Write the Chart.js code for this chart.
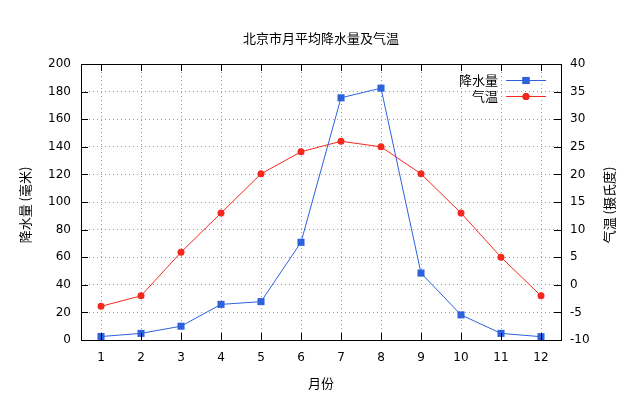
<!DOCTYPE html>
<html>
<head>
<meta charset="utf-8">
<script src="https://cdn.jsdelivr.net/npm/chart.js@4"></script>
<style>
  html, body { margin: 0; padding: 0; background: #fff; }
  #wrap { width: 630px; height: 408px; }
</style>
</head>
<body>
<div id="wrap"><canvas id="chart"></canvas></div>
<script>
const months = ['1', '2', '3', '4', '5', '6', '7', '8', '9', '10', '11', '12'];
const rain = [2.5, 4.8, 10, 25.8, 27.8, 70.8, 175.5, 182.5, 48.5, 18.2, 4.8, 2.4];
const temp = [-3.9, -2.0, 5.9, 13.0, 20.1, 24.1, 26.0, 25.0, 20.1, 13.0, 5.0, -2.0];

const title = '北京市月平均降水量及气温';
const xTitle = '月份';
const yTitle = '降水量 (毫米)';
const y2Title = '气温 (摄氏度)';
const rainLabel = '降水量';
const tempLabel = '气温';

const blue = '#2c62dc';
const red = '#f5281e';
const numFont = { family: 'DejaVu Sans', size: 12 };
const cjk = '"Noto Sans CJK SC", sans-serif';

// frame, inward ticks, texts and legend, drawn like gnuplot does
const decor = {
    id: 'decor',
    afterDraw(chart) {
        const ctx = chart.ctx;
        const a = chart.chartArea;
        const sx = chart.scales.x, sy = chart.scales.y, sy2 = chart.scales.y2;
        const tl = 7;
        ctx.save();
        ctx.strokeStyle = '#000';
        ctx.lineWidth = 1;
        ctx.beginPath();
        sx.ticks.forEach((t, i) => {
            const px = Math.round(sx.getPixelForTick(i)) + 0.5;
            ctx.moveTo(px, a.bottom); ctx.lineTo(px, a.bottom - tl);
            ctx.moveTo(px, a.top); ctx.lineTo(px, a.top + tl);
        });
        sy.ticks.forEach(t => {
            const py = Math.round(sy.getPixelForValue(t.value)) + 0.5;
            ctx.moveTo(a.left, py); ctx.lineTo(a.left + tl, py);
        });
        sy2.ticks.forEach(t => {
            const py = Math.round(sy2.getPixelForValue(t.value)) + 0.5;
            ctx.moveTo(a.right, py); ctx.lineTo(a.right - tl, py);
        });
        ctx.stroke();
        ctx.strokeRect(Math.round(a.left) + 0.5, Math.round(a.top) + 0.5,
            Math.round(a.right - a.left), Math.round(a.bottom - a.top));

        ctx.fillStyle = '#000';
        ctx.font = '13px ' + cjk;
        ctx.textAlign = 'center';
        ctx.textBaseline = 'middle';
        ctx.fillText(title, (a.left + a.right) / 2, 38);
        ctx.fillText(xTitle, (a.left + a.right) / 2, 383);
        const midY = (a.top + a.bottom) / 2;
        ctx.save();
        ctx.translate(25, midY + 3);
        ctx.rotate(-Math.PI / 2);
        ctx.fillText(yTitle, 0, 0);
        ctx.restore();
        ctx.save();
        ctx.translate(609, midY + 3);
        ctx.rotate(-Math.PI / 2);
        ctx.fillText(y2Title, 0, 0);
        ctx.restore();

        // legend
        const entries = [[rainLabel, blue, 'rect', 80], [tempLabel, red, 'circle', 96]];
        entries.forEach(([label, color, style, y]) => {
            ctx.fillStyle = '#000';
            ctx.textAlign = 'right';
            ctx.fillText(label, 498, y);
            ctx.strokeStyle = color;
            ctx.beginPath();
            ctx.moveTo(506, y + 0.5); ctx.lineTo(546, y + 0.5);
            ctx.stroke();
            ctx.fillStyle = color;
            Chart.helpers.drawPoint(ctx, { pointStyle: style, radius: style === 'rect' ? 5 : 3.5, borderWidth: 0 }, 526, y + 0.5);
            ctx.fill();
        });
        ctx.restore();
    }
};

new Chart(document.getElementById('chart'), {
    type: 'line',
    data: {
        labels: months,
        datasets: [{
            label: rainLabel,
            data: rain,
            yAxisID: 'y',
            borderColor: blue,
            backgroundColor: blue,
            borderWidth: 1,
            pointStyle: 'rect',
            pointRadius: 5,
            pointBorderWidth: 0,
            tension: 0
        }, {
            label: tempLabel,
            data: temp,
            yAxisID: 'y2',
            borderColor: red,
            backgroundColor: red,
            borderWidth: 1,
            pointStyle: 'circle',
            pointRadius: 3.5,
            pointBorderWidth: 0,
            tension: 0
        }]
    },
    options: {
        responsive: true,
        maintainAspectRatio: false,
        animation: false,
        layout: { padding: { top: 64, left: 0, right: 0, bottom: 0 } },
        plugins: {
            legend: { display: false },
            title: { display: false },
            tooltip: { enabled: false }
        },
        scales: {
            x: {
                type: 'category',
                offset: true,
                afterFit: s => { s.height = 68; },
                grid: { offset: false, color: '#999', drawTicks: false },
                border: { display: false, dash: [1, 3] },
                ticks: { color: '#000', font: numFont, padding: 11, maxRotation: 0 }
            },
            y: {
                position: 'left',
                min: 0,
                max: 200,
                afterFit: s => { s.width = 81; },
                ticks: { stepSize: 20, color: '#000', font: numFont, padding: 10 },
                grid: { color: '#999', drawTicks: false },
                border: { display: false, dash: [1, 3] }
            },
            y2: {
                position: 'right',
                min: -10,
                max: 40,
                afterFit: s => { s.width = 69; },
                ticks: { stepSize: 5, color: '#000', font: numFont, padding: 9 },
                grid: { display: false, drawTicks: false },
                border: { display: false }
            }
        }
    },
    plugins: [decor]
});
</script>
</body>
</html>
